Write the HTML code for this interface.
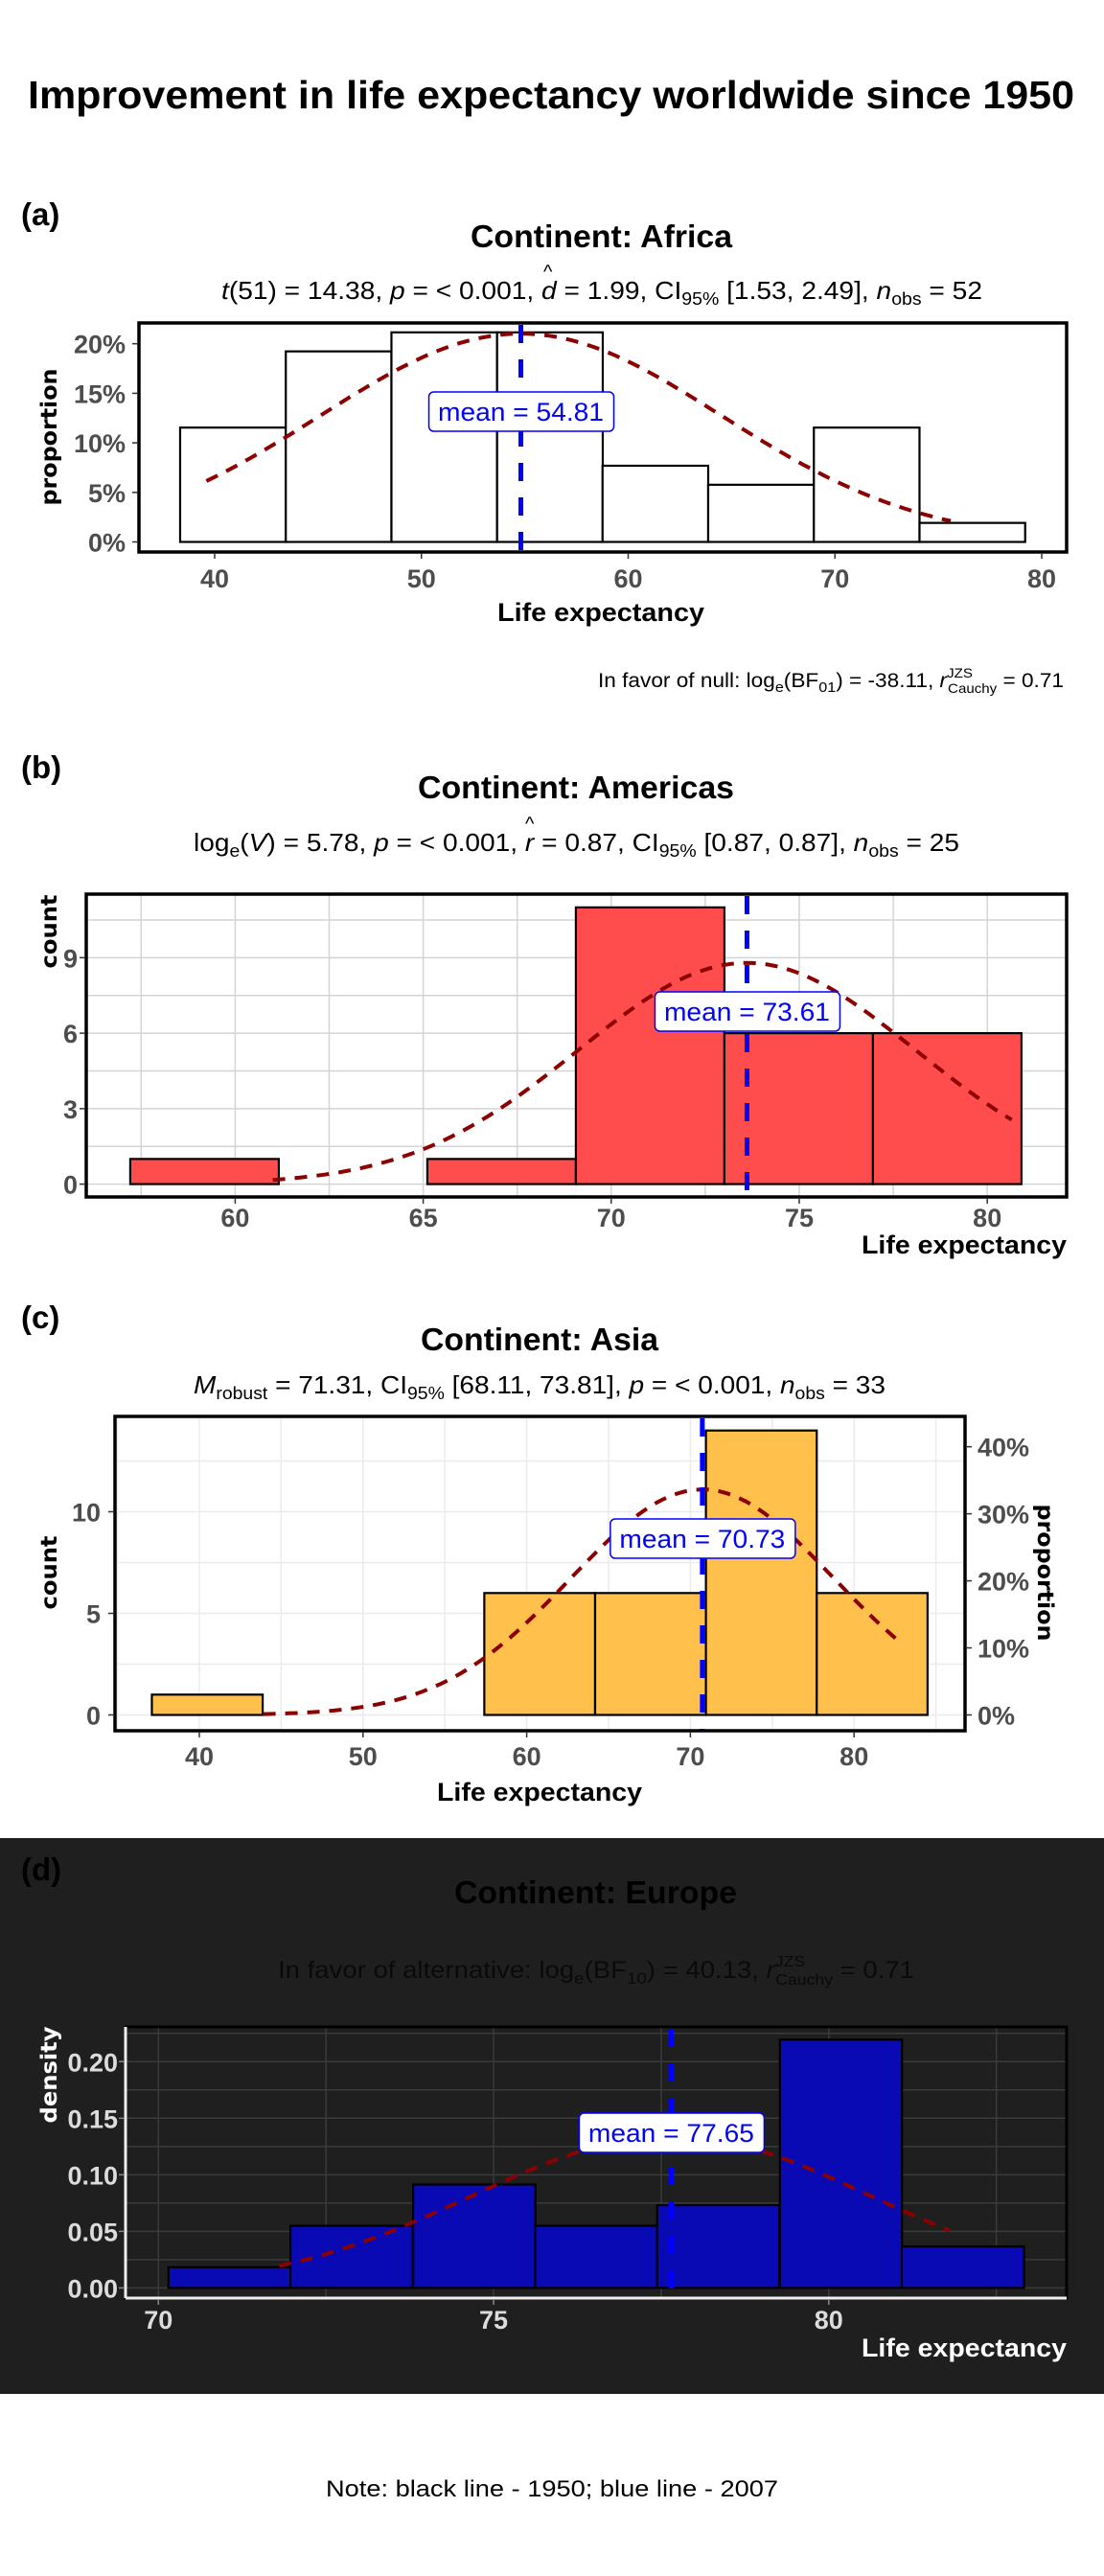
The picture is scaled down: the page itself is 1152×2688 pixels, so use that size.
<!DOCTYPE html>
<html><head><meta charset="utf-8"><title>Life expectancy</title>
<style>
html,body{margin:0;padding:0;background:#fff;}
svg{display:block;font-family:"Liberation Sans",Arial,sans-serif;}
.tk{font-weight:bold;font-size:27px;fill:#4d4d4d;}
.tkd{font-weight:bold;font-size:27px;fill:#dcdcdc;}
.yt{font-family:"DejaVu Sans",sans-serif;font-weight:bold;font-size:23px;}
</style></head>
<body>
<svg id="chart" width="1152" height="2688" viewBox="0 0 1152 2688" xmlns="http://www.w3.org/2000/svg">
<rect x="0" y="0" width="1152" height="2688" fill="#fff"/>
<rect x="0" y="1918" width="1152" height="580" fill="#1f1f1f"/>
<text x="29" y="113" font-size="41" font-weight="bold" textLength="1092" lengthAdjust="spacingAndGlyphs">Improvement in life expectancy worldwide since 1950</text>

<!-- Panel a -->
<text x="22" y="235" font-size="33" font-weight="bold">(a)</text>
<text x="491" y="258" font-size="33" font-weight="bold" textLength="273" lengthAdjust="spacingAndGlyphs">Continent: Africa</text>
<text x="231" y="312" font-size="26" textLength="794" lengthAdjust="spacingAndGlyphs"><tspan font-style="italic">t</tspan>(51) = 14.38, <tspan font-style="italic">p</tspan> = &lt; 0.001, <tspan font-style="italic">d</tspan> = 1.99, CI<tspan font-size="18" dy="6">95%</tspan><tspan dy="-6"> [1.53, 2.49], </tspan><tspan font-style="italic">n</tspan><tspan font-size="18" dy="6">obs</tspan><tspan dy="-6"> = 52</tspan></text>
<text x="567" y="290" font-size="20">^</text>
<text class="yt" transform="translate(59,456) rotate(-90)" text-anchor="middle" textLength="143" lengthAdjust="spacingAndGlyphs">proportion</text>
<text x="627" y="648" font-size="27" font-weight="bold" text-anchor="middle" textLength="216" lengthAdjust="spacingAndGlyphs">Life expectancy</text>
<text x="624" y="717" font-size="21" textLength="486" lengthAdjust="spacingAndGlyphs">In favor of null: log<tspan font-size="15" dy="5">e</tspan><tspan dy="-5">(BF</tspan><tspan font-size="15" dy="5">01</tspan><tspan dy="-5">) = -38.11, </tspan><tspan font-style="italic">r</tspan><tspan font-size="14" dy="-10">JZS</tspan><tspan font-size="14" dx="-24" dy="16">Cauchy</tspan><tspan dy="-6"> = 0.71</tspan></text>

<!-- Panel b -->
<text x="22" y="812" font-size="33" font-weight="bold">(b)</text>
<text x="436" y="833" font-size="33" font-weight="bold" textLength="330" lengthAdjust="spacingAndGlyphs">Continent: Americas</text>
<text x="202" y="888" font-size="26" textLength="799" lengthAdjust="spacingAndGlyphs">log<tspan font-size="18" dy="6">e</tspan><tspan dy="-6">(</tspan><tspan font-style="italic">V</tspan>) = 5.78, <tspan font-style="italic">p</tspan> = &lt; 0.001, <tspan font-style="italic">r</tspan> = 0.87, CI<tspan font-size="18" dy="6">95%</tspan><tspan dy="-6"> [0.87, 0.87], </tspan><tspan font-style="italic">n</tspan><tspan font-size="18" dy="6">obs</tspan><tspan dy="-6"> = 25</tspan></text>
<text x="548" y="866" font-size="20">^</text>
<text class="yt" transform="translate(59,972) rotate(-90)" text-anchor="middle" textLength="77" lengthAdjust="spacingAndGlyphs">count</text>
<text x="1113" y="1308" font-size="27" font-weight="bold" text-anchor="end" textLength="214" lengthAdjust="spacingAndGlyphs">Life expectancy</text>

<!-- Panel c -->
<text x="22" y="1386" font-size="33" font-weight="bold">(c)</text>
<text x="439" y="1409" font-size="33" font-weight="bold" textLength="248" lengthAdjust="spacingAndGlyphs">Continent: Asia</text>
<text x="202" y="1454" font-size="26" textLength="722" lengthAdjust="spacingAndGlyphs"><tspan font-style="italic">M</tspan><tspan font-size="18" dy="6">robust</tspan><tspan dy="-6"> = 71.31, CI</tspan><tspan font-size="18" dy="6">95%</tspan><tspan dy="-6"> [68.11, 73.81], </tspan><tspan font-style="italic">p</tspan> = &lt; 0.001, <tspan font-style="italic">n</tspan><tspan font-size="18" dy="6">obs</tspan><tspan dy="-6"> = 33</tspan></text>
<text class="yt" transform="translate(59,1641) rotate(-90)" text-anchor="middle" textLength="77" lengthAdjust="spacingAndGlyphs">count</text>
<text class="yt" transform="translate(1083,1641) rotate(90)" text-anchor="middle" textLength="143" lengthAdjust="spacingAndGlyphs">proportion</text>
<text x="563" y="1879" font-size="27" font-weight="bold" text-anchor="middle" textLength="214" lengthAdjust="spacingAndGlyphs">Life expectancy</text>

<!-- Panel d -->
<text x="22" y="1962" font-size="33" font-weight="bold" fill="#000">(d)</text>
<text x="474" y="1986" font-size="33" font-weight="bold" fill="#000" textLength="295" lengthAdjust="spacingAndGlyphs">Continent: Europe</text>
<text x="290" y="2064" font-size="25" fill="#0a0a0a" textLength="664" lengthAdjust="spacingAndGlyphs">In favor of alternative: log<tspan font-size="17" dy="6">e</tspan><tspan dy="-6">(BF</tspan><tspan font-size="17" dy="6">10</tspan><tspan dy="-6">) = 40.13, </tspan><tspan font-style="italic">r</tspan><tspan font-size="16" dy="-12">JZS</tspan><tspan font-size="16" dx="-28" dy="19">Cauchy</tspan><tspan dy="-7"> = 0.71</tspan></text>
<text class="yt" fill="#fff" transform="translate(59,2165) rotate(-90)" text-anchor="middle" textLength="101" lengthAdjust="spacingAndGlyphs">density</text>
<text x="1113" y="2459" font-size="27" font-weight="bold" fill="#fff" text-anchor="end" textLength="214" lengthAdjust="spacingAndGlyphs">Life expectancy</text>

<text x="340" y="2605" font-size="24" textLength="472" lengthAdjust="spacingAndGlyphs">Note: black line - 1950; blue line - 2007</text>
<g id="marks"></g>
</svg>
<script>
// ---- data ----
const africaBins = [38.33, 43.44, 48.55, 53.66, 58.76, 63.87, 68.98, 74.09];
const africaProp = [11.54, 19.23, 21.15, 21.15, 7.69, 5.77, 11.54, 1.92];
const africaBinWidth = 5.11;
const africaTicksX = [40, 50, 60, 70, 80];
const africaTicksY = [0, 5, 10, 15, 20];
const africaMean = 54.81, africaSd = 9.7, africaRange = [39.6, 75.6];

const americasBins = [57.21, 61.16, 65.11, 69.06, 73.01, 76.96];
const americasCounts = [1, 0, 1, 11, 6, 6];
const americasBinWidth = 3.95;
const americasTicksX = [60, 65, 70, 75, 80];
const americasTicksY = [0, 3, 6, 9];
const americasMean = 73.61, americasSd = 4.48, americasRange = [61.0, 80.65];

const asiaBins = [37.1, 43.87, 50.64, 57.41, 64.18, 70.95, 77.72];
const asiaCounts = [1, 0, 0, 6, 6, 14, 6];
const asiaBinWidth = 6.77;
const asiaTicksX = [40, 50, 60, 70, 80];
const asiaTicksY = [0, 5, 10];
const asiaTicksProp = [0, 10, 20, 30, 40];
const asiaN = 33;
const asiaMean = 70.73, asiaSd = 8.03, asiaRange = [43.9, 82.7];

const europeBins = [70.15, 71.97, 73.80, 75.62, 77.44, 79.27, 81.09];
const europeDensity = [0.0183, 0.0549, 0.0914, 0.0549, 0.0731, 0.2194, 0.0366];
const europeBinWidth = 1.823;
const europeTicksX = [70, 75, 80];
const europeTicksY = [0, 0.05, 0.10, 0.15, 0.20];
const europeMean = 77.65, europeSd = 2.98, europeRange = [71.8, 81.8];

const NS = 'http://www.w3.org/2000/svg';
const root = document.getElementById('marks');
function mk(tag, attrs, parent) {
  const e = document.createElementNS(NS, tag);
  for (const k in attrs) e.setAttribute(k, attrs[k]);
  (parent || root).appendChild(e);
  return e;
}
function dnorm(x, m, s) { return Math.exp(-0.5 * ((x - m) / s) ** 2) / (s * Math.sqrt(2 * Math.PI)); }

function panel(cfg) {
  const g = mk('g', {});
  
  
  const X = v => cfg.x0 + (v - cfg.xv0) * cfg.kx;
  const Y = v => cfg.y0 - v * cfg.ky;
  const b = cfg.box;
  const clipId = cfg.name + '-clip';
  const cp = mk('clipPath', { id: clipId }, g);
  mk('rect', { x: b[0], y: b[1], width: b[2] - b[0], height: b[3] - b[1] }, cp);
  if (cfg.bg) {
    const bg = mk('rect', { x: b[0], y: b[1], width: b[2] - b[0], height: b[3] - b[1], fill: cfg.bg }, g);
    
    
  }
  if (cfg.grid) {
    const gg = mk('g', { 'clip-path': 'url(#' + clipId + ')' }, g);
    
    
    cfg.gridX.forEach(v => {
      const l = mk('line', { x1: X(v), x2: X(v), y1: b[1], y2: b[3], stroke: cfg.grid, 'stroke-width': 1.5 }, gg);
      
      
    });
    cfg.gridY.forEach(v => {
      const l = mk('line', { x1: b[0], x2: b[2], y1: Y(v), y2: Y(v), stroke: cfg.grid, 'stroke-width': 1.5 }, gg);
      
      
    });
  }
  // bars
  cfg.bins.forEach((s, i) => {
    const v = cfg.vals[i];
    const r = mk('rect', { x: X(s), y: Y(v), width: X(s + cfg.bw) - X(s), height: Y(0) - Y(v), fill: cfg.fill, stroke: '#000', 'stroke-width': 2.2 }, g);
    
    
  });
  // curve
  const pts = [];
  for (let i = 0; i <= 100; i++) {
    const xv = cfg.range[0] + (cfg.range[1] - cfg.range[0]) * i / 100;
    pts.push(X(xv).toFixed(1) + ',' + Y(cfg.scale * dnorm(xv, cfg.mean, cfg.sd)).toFixed(1));
  }
  const c = mk('polyline', { points: pts.join(' '), fill: 'none', stroke: '#8b0000', 'stroke-width': 4, 'stroke-dasharray': '13 10' }, g);
  
  
  // mean line
  const ml = mk('line', { x1: X(cfg.mean), x2: X(cfg.mean), y1: b[1] + 2, y2: b[3] - 1, stroke: '#0000ff', 'stroke-width': 5, 'stroke-dasharray': '19 17' }, g);
  
  
  // mean label
  const cx = X(cfg.mean);
  const lb = mk('rect', { x: cx - 96, y: cfg.labelY, width: 193, height: 41, rx: 5, fill: '#fff', stroke: '#0000ff', 'stroke-width': 1.5 }, g);
  
  
  const lt = mk('text', { x: cx, y: cfg.labelY + 30, 'font-size': 27, fill: '#0000ff', 'text-anchor': 'middle', textLength: 173, lengthAdjust: 'spacingAndGlyphs' }, g);
  lt.textContent = 'mean = ' + cfg.mean.toFixed(2);
  
  
  // frame
  if (cfg.dark) {
    mk('rect', { x: b[0], y: b[1], width: b[2] - b[0], height: b[3] - b[1], fill: 'none', stroke: '#000', 'stroke-width': 3 }, g);
    mk('line', { x1: b[0], x2: b[0], y1: b[1], y2: b[3], stroke: '#eee', 'stroke-width': 3 }, g);
    mk('line', { x1: b[0], x2: b[2], y1: b[3], y2: b[3], stroke: '#eee', 'stroke-width': 3 }, g);
  } else {
    const fr = mk('rect', { x: b[0], y: b[1], width: b[2] - b[0], height: b[3] - b[1], fill: 'none', stroke: '#000', 'stroke-width': 3.5 }, g);
    
    
  }
  const tcls = cfg.dark ? 'tkd' : 'tk';
  cfg.ticksX.forEach(v => {
    mk('line', { x1: X(v), x2: X(v), y1: b[3] + 1, y2: b[3] + 7, stroke: cfg.dark ? '#888' : '#333', 'stroke-width': 1.5 }, g);
    const t = mk('text', { x: X(v), y: cfg.xLabelY, class: tcls, 'text-anchor': 'middle' }, g);
    t.textContent = String(v);
    
    
  });
  cfg.ticksY.forEach((v, i) => {
    mk('line', { x1: b[0] - 7, x2: b[0] - 1, y1: Y(cfg.tickYVal(v)), y2: Y(cfg.tickYVal(v)), stroke: cfg.dark ? '#888' : '#333', 'stroke-width': 1.5 }, g);
    const t = mk('text', { x: cfg.yLabelX, y: Y(cfg.tickYVal(v)) + 10, class: tcls, 'text-anchor': 'end' }, g);
    t.textContent = cfg.fmtY(v);
    
    
  });
  if (cfg.ticksR) {
    cfg.ticksR.forEach(v => {
      const yy = Y(v / 100 * cfg.n);
      mk('line', { x1: b[2] + 1, x2: b[2] + 7, y1: yy, y2: yy, stroke: '#333', 'stroke-width': 1.5 }, g);
      const t = mk('text', { x: b[2] + 13, y: yy + 10, class: 'tk' }, g);
      t.textContent = v + '%';
      
      
    });
  }
}

panel({ name: 'africa', box: [145, 337, 1113, 576], x0: 224, xv0: 40, kx: 21.575, y0: 565.5, ky: 10.34,
  bins: africaBins, vals: africaProp, bw: africaBinWidth, fill: '#fff',
  mean: africaMean, sd: africaSd, range: africaRange, scale: africaBinWidth * 100,
  ticksX: africaTicksX, ticksY: africaTicksY, tickYVal: v => v, fmtY: v => v + '%',
  xLabelY: 613, yLabelX: 131, labelY: 409 });

panel({ name: 'americas', box: [90, 933, 1113, 1249], x0: 245.4, xv0: 60, kx: 39.24, y0: 1235.6, ky: 26.25,
  bins: americasBins, vals: americasCounts, bw: americasBinWidth, fill: '#ff4d4d',
  grid: '#d4d4d4', gridX: [57.5, 60, 62.5, 65, 67.5, 70, 72.5, 75, 77.5, 80, 82.5], gridY: [0, 1.5, 3, 4.5, 6, 7.5, 9, 10.5],
  mean: americasMean, sd: americasSd, range: americasRange, scale: 25 * americasBinWidth,
  ticksX: americasTicksX, ticksY: americasTicksY, tickYVal: v => v, fmtY: v => String(v),
  xLabelY: 1280, yLabelX: 81, labelY: 1035 });

panel({ name: 'asia', box: [120, 1478, 1007, 1806], x0: 208, xv0: 40, kx: 17.08, y0: 1789.5, ky: 21.2,
  bins: asiaBins, vals: asiaCounts, bw: asiaBinWidth, fill: '#ffc04c',
  grid: '#ebebeb', gridX: [35, 40, 45, 50, 55, 60, 65, 70, 75, 80, 85], gridY: [0, 2.5, 5, 7.5, 10, 12.5],
  mean: asiaMean, sd: asiaSd, range: asiaRange, scale: asiaN * asiaBinWidth,
  ticksX: asiaTicksX, ticksY: asiaTicksY, tickYVal: v => v, fmtY: v => String(v),
  ticksR: asiaTicksProp, n: asiaN,
  xLabelY: 1842, yLabelX: 105, labelY: 1585 });

panel({ name: 'europe', dark: true, box: [131, 2115, 1113, 2398], x0: 165.3, xv0: 70, kx: 69.95, y0: 2387.4, ky: 1180.7,
  bins: europeBins, vals: europeDensity, bw: europeBinWidth, fill: '#0a0ab4', bg: '#1f1f1f',
  grid: '#3b3b3b', gridX: [70, 72.5, 75, 77.5, 80, 82.5], gridY: [0, 0.025, 0.05, 0.075, 0.1, 0.125, 0.15, 0.175, 0.2, 0.225],
  mean: europeMean, sd: europeSd, range: europeRange, scale: 1,
  ticksX: europeTicksX, ticksY: europeTicksY, tickYVal: v => v, fmtY: v => v.toFixed(2),
  xLabelY: 2430, yLabelX: 123, labelY: 2205 });
</script>
</body></html>
